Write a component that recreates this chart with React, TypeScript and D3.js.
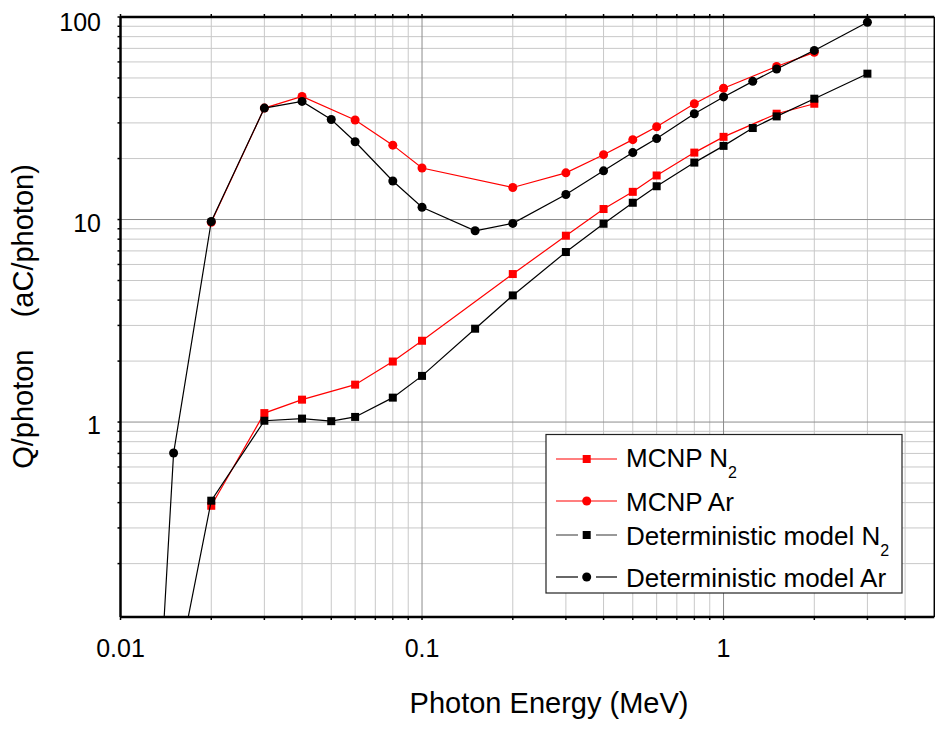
import React from "react";
import * as d3 from "d3";

const energyMCNP = [0.02, 0.03, 0.04, 0.06, 0.08, 0.1, 0.2, 0.3, 0.4, 0.5, 0.6, 0.8, 1, 1.5, 2];
const mcnpN2 = [0.386, 1.107, 1.29, 1.53, 1.99, 2.52, 5.38, 8.32, 11.27, 13.7, 16.5, 21.4, 25.6, 33.3, 37.3];
const mcnpAr = [9.7, 35.5, 40.5, 31.0, 23.3, 17.96, 14.4, 17.0, 20.9, 24.8, 28.7, 37.3, 44.5, 57.0, 66.9];

const energyDet = [0.01, 0.015, 0.02, 0.03, 0.04, 0.05, 0.06, 0.08, 0.1, 0.15, 0.2, 0.3, 0.4, 0.5, 0.6, 0.8, 1, 1.25, 1.5, 2, 3];
const detN2 = [0.0021, 0.047, 0.409, 1.015, 1.04, 1.01, 1.06, 1.32, 1.69, 2.89, 4.22, 6.91, 9.53, 12.1, 14.6, 19.1, 23.1, 28.3, 32.3, 39.5, 52.5];
const detAr = [0.000019, 0.703, 9.78, 35.5, 38.3, 31.2, 24.2, 15.5, 11.5, 8.8, 9.57, 13.3, 17.4, 21.4, 25.1, 33.3, 40.3, 48.1, 55.4, 68.4, 94.2];

const xTickLabels = ["0.01", "0.1", "1"];
const yTickLabels = ["1", "10", "100"];

const legendLabels = [
  { main: "MCNP N", sub: "2" },
  { main: "MCNP Ar", sub: "" },
  { main: "Deterministic model N", sub: "2" },
  { main: "Deterministic model Ar", sub: "" },
];

const W = 935;
const H = 730;
const L = 120.5, R = 934.3, T = 17, B = 617;
const FONT = "Arial, 'Liberation Sans', sans-serif";

export default function App() {
  const x = d3.scaleLog().domain([0.01, 5]).range([L, R]);
  const y = d3.scaleLog().domain([0.109, 100]).range([B, T]);

  const xMinor: number[] = [];
  [0.01, 0.1, 1].forEach((d) => {
    for (let k = 2; k <= 9; k++) {
      const v = d * k;
      if (v < 5) xMinor.push(v);
    }
  });
  const xMajor = [0.01, 0.1, 1];
  const yMinor: number[] = [];
  [0.1, 1, 10].forEach((d) => {
    for (let k = 2; k <= 9; k++) {
      const v = d * k;
      if (v > 0.109 && v < 100) yMinor.push(v);
    }
  });
  const yMajor = [1, 10, 100];

  const line = d3
    .line<[number, number]>()
    .x((d) => x(d[0]))
    .y((d) => y(d[1]));

  const zip = (xs: number[], ys: number[]) => xs.map((v, i) => [v, ys[i]] as [number, number]);

  const series = [
    { data: zip(energyMCNP, mcnpN2), color: "#ff0000", marker: "square" },
    { data: zip(energyMCNP, mcnpAr), color: "#ff0000", marker: "circle" },
    { data: zip(energyDet, detN2), color: "#000000", marker: "square" },
    { data: zip(energyDet, detAr), color: "#000000", marker: "circle" },
  ];

  const inside = (d: [number, number]) => d[1] >= 0.109 && d[1] <= 100 && d[0] >= 0.01 && d[0] <= 5;

  const marker = (type: string, cx: number, cy: number, color: string, key: string) =>
    type === "square" ? (
      <rect key={key} x={cx - 4} y={cy - 4} width={8} height={8} fill={color} />
    ) : (
      <circle key={key} cx={cx} cy={cy} r={4.5} fill={color} />
    );

  const legendRows = [
    { lineY: 459, baseY: 467 },
    { lineY: 501, baseY: 511 },
    { lineY: 535, baseY: 545 },
    { lineY: 577, baseY: 587 },
  ];

  return (
    <svg
      width={W}
      height={H}
      style={{ position: "absolute", left: 0, top: 0, background: "#fff" }}
      fontFamily={FONT}
    >
      <defs>
        <clipPath id="plotClip">
          <rect x={L} y={T} width={R - L} height={B - T} />
        </clipPath>
      </defs>
      <rect x={0} y={0} width={W} height={H} fill="#fff" />

      {/* minor grid */}
      {xMinor.map((v, i) => (
        <line key={"xm" + i} x1={x(v)} x2={x(v)} y1={T} y2={B} stroke="#c8c8c8" strokeWidth={1} />
      ))}
      {yMinor.map((v, i) => (
        <line key={"ym" + i} x1={L} x2={R} y1={y(v)} y2={y(v)} stroke="#c8c8c8" strokeWidth={1} />
      ))}
      {/* major grid */}
      {xMajor.map((v, i) => (
        <line key={"xM" + i} x1={x(v)} x2={x(v)} y1={T} y2={B} stroke="#8c8c8c" strokeWidth={1} />
      ))}
      {yMajor.map((v, i) => (
        <line key={"yM" + i} x1={L} x2={R} y1={y(v)} y2={y(v)} stroke="#8c8c8c" strokeWidth={1} />
      ))}

      {/* ticks */}
      {[...xMinor, ...xMajor].map((v, i) => (
        <g key={"xt" + i}>
          <line x1={x(v)} x2={x(v)} y1={B} y2={B + 3} stroke="#000" strokeWidth={1.5} />
          <line x1={x(v)} x2={x(v)} y1={T} y2={T - 3} stroke="#000" strokeWidth={1.5} />
        </g>
      ))}
      {[...yMinor, ...yMajor].map((v, i) => (
        <line key={"yt" + i} x1={L} x2={L - 3} y1={y(v)} y2={y(v)} stroke="#000" strokeWidth={1.5} />
      ))}

      {/* series */}
      <g clipPath="url(#plotClip)">
        {series.map((s, si) => (
          <g key={"s" + si}>
            <path d={line(s.data) || ""} fill="none" stroke={s.color} strokeWidth={1.2} />
            {s.data.filter(inside).map((d, i) => marker(s.marker, x(d[0]), y(d[1]), s.color, "m" + si + "-" + i))}
          </g>
        ))}
      </g>

      {/* frame */}
      <line x1={L} x2={L} y1={T} y2={B} stroke="#000" strokeWidth={2.5} />
      <line x1={L} x2={R} y1={B} y2={B} stroke="#000" strokeWidth={2.5} />
      <line x1={L} x2={R} y1={T} y2={T} stroke="#000" strokeWidth={2.5} />
      <line x1={R} x2={R} y1={T} y2={B} stroke="#000" strokeWidth={1.5} />

      {/* tick labels */}
      {xMajor.map((v, i) => (
        <text key={"xl" + i} x={x(v)} y={657} textAnchor="middle" fontSize={25} fill="#000">
          {xTickLabels[i]}
        </text>
      ))}
      {yMajor.map((v, i) => (
        <text key={"yl" + i} x={101} y={Math.max(y(v) + 12, 31)} textAnchor="end" fontSize={25} fill="#000">
          {yTickLabels[i]}
        </text>
      ))}

      {/* axis titles */}
      <text x={549} y={713} textAnchor="middle" fontSize={29} fill="#000">
        Photon Energy (MeV)
      </text>
      <text
        transform={`translate(33,316.5) rotate(-90)`}
        textAnchor="middle"
        fontSize={29}
        fill="#000"
        style={{ whiteSpace: "pre" }}
      >
        {"Q/photon    (aC/photon)"}
      </text>

      {/* legend */}
      <rect x={546} y={434.5} width={356} height={158.5} fill="#fff" stroke="#222" strokeWidth={1.2} />
      {legendLabels.map((lab, i) => {
        const s = series[i];
        const r = legendRows[i];
        const isDet = i >= 2;
        return (
          <g key={"lg" + i}>
            {isDet ? (
              <>
                <line x1={556} x2={578} y1={r.lineY} y2={r.lineY} stroke={i === 2 ? "#555" : "#000"} strokeWidth={1.2} />
                <line x1={596} x2={617} y1={r.lineY} y2={r.lineY} stroke={i === 2 ? "#555" : "#000"} strokeWidth={1.2} />
              </>
            ) : (
              <line x1={556} x2={617} y1={r.lineY} y2={r.lineY} stroke={s.color} strokeWidth={1.2} />
            )}
            {marker(s.marker, 586.7, r.lineY, s.color, "lm" + i)}
            <text x={626} y={r.baseY} fontSize={26} fill="#000">
              {lab.main}
              {lab.sub ? (
                <tspan fontSize={16} dy={11}>
                  {lab.sub}
                </tspan>
              ) : null}
            </text>
          </g>
        );
      })}
    </svg>
  );
}
